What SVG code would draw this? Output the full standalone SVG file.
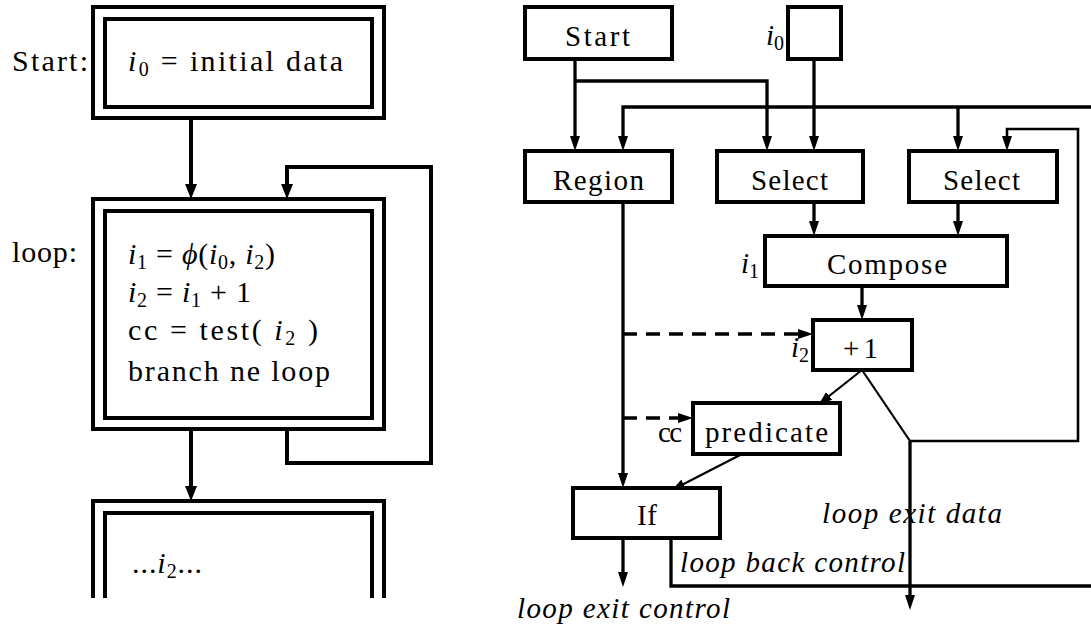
<svg xmlns="http://www.w3.org/2000/svg" width="1091" height="628" viewBox="0 0 1091 628">
<style>
  text { font-family: "Liberation Serif", Tinos, "Nimbus Roman", "Nimbus Roman No9 L", FreeSerif, "DejaVu Serif", "Noto Serif", Times, "Times New Roman", serif; fill: #000; }
  .L { font-size: 30px; }
  .R { font-size: 29px; }
  .it { font-style: italic; }
  .sub { font-size: 20px; font-style: normal; }
  .lbox { fill: none; stroke: #000; stroke-width: 4; }
  .rbox { fill: #fff; stroke: #000; stroke-width: 4; }
  .lc { fill: none; stroke: #000; stroke-width: 4; }
  .c { fill: none; stroke: #000; stroke-width: 3.3; }
  .thin { fill: none; stroke: #000; stroke-width: 2.6; }
  .diag { fill: none; stroke: #000; stroke-width: 2.2; }
  .dash { fill: none; stroke: #000; stroke-width: 3.3; stroke-dasharray: 14 9; }
</style>
<defs>
  <marker id="ahL" markerUnits="userSpaceOnUse" markerWidth="15" markerHeight="12" refX="9" refY="6" orient="auto">
    <path d="M0,0 L15,6 L0,12 z" fill="#000"/>
  </marker>
  <marker id="ah" markerUnits="userSpaceOnUse" markerWidth="15" markerHeight="10" refX="9" refY="5" orient="auto">
    <path d="M0,0 L15,5 L0,10 z" fill="#000"/>
  </marker>
  <marker id="ahs" markerUnits="userSpaceOnUse" markerWidth="13" markerHeight="10" refX="13" refY="5" orient="auto">
    <path d="M0,0 L13,5 L0,10 z" fill="#000"/>
  </marker>
</defs>

<!-- ===== Left: control flow graph ===== -->
<g id="left-connectors">
  <path class="lc" d="M191,118 V193" marker-end="url(#ahL)"/>
  <path class="lc" d="M287,429 V463 H431 V167 H287 V193" marker-end="url(#ahL)"/>
  <path class="lc" d="M191,429 V495" marker-end="url(#ahL)"/>
</g>

<g id="bb-start">
  <rect class="lbox" x="93" y="7" width="291" height="111"/>
  <rect class="lbox" x="105" y="19" width="267" height="88"/>
  <text class="L" x="12" y="71" textLength="76">Start:</text>
  <text class="L" x="128" y="71" textLength="215"><tspan class="it">i</tspan><tspan class="sub" dy="5">0</tspan><tspan dy="-5"> = initial data</tspan></text>
</g>

<g id="bb-loop">
  <rect class="lbox" x="93" y="199" width="291" height="230"/>
  <rect class="lbox" x="105" y="211" width="267" height="207"/>
  <text class="L" x="12" y="262" textLength="65">loop:</text>
  <text class="L" x="128" y="264" textLength="147"><tspan class="it">i</tspan><tspan class="sub" dy="5">1</tspan><tspan dy="-5"> = </tspan><tspan class="it">ϕ</tspan><tspan>(</tspan><tspan class="it">i</tspan><tspan class="sub" dy="5">0</tspan><tspan dy="-5">, </tspan><tspan class="it">i</tspan><tspan class="sub" dy="5">2</tspan><tspan dy="-5">)</tspan></text>
  <text class="L" x="128" y="302" textLength="123"><tspan class="it">i</tspan><tspan class="sub" dy="5">2</tspan><tspan dy="-5"> = </tspan><tspan class="it">i</tspan><tspan class="sub" dy="5">1</tspan><tspan dy="-5"> + 1</tspan></text>
  <text class="L" x="128" y="340" textLength="190"><tspan>cc = test( </tspan><tspan class="it">i</tspan><tspan class="sub" dy="5">2</tspan><tspan dy="-5"> )</tspan></text>
  <text class="L" x="128" y="381" textLength="202">branch ne loop</text>
</g>

<g id="bb-after">
  <path class="lbox" d="M93,598 V501 H384 V598"/>
  <path class="lbox" d="M105,598 V513 H372 V598"/>
  <text class="L" x="132" y="573" textLength="70"><tspan>...</tspan><tspan class="it">i</tspan><tspan class="sub" dy="5">2</tspan><tspan dy="-5">...</tspan></text>
</g>

<!-- ===== Right: sea of nodes graph ===== -->
<g id="connectors">
  <path class="c" d="M575,59 V145" marker-end="url(#ah)"/>
  <path class="c" d="M575,81 H767 V145" marker-end="url(#ah)"/>
  <path class="c" d="M814,59 V145" marker-end="url(#ah)"/>
  <path class="c" d="M1091,107 H623 V145" marker-end="url(#ah)"/>
  <path class="c" d="M958,107 V145" marker-end="url(#ah)"/>
  <path class="thin" d="M910,441 H1078 V129 H1007 V145" marker-end="url(#ah)"/>
  <path class="diag" d="M862,370 L910,441"/>
  <path class="c" d="M910,441 V604" marker-end="url(#ah)"/>
  <path class="c" d="M814,202 V230" marker-end="url(#ah)"/>
  <path class="c" d="M958,202 V230" marker-end="url(#ah)"/>
  <path class="c" d="M862,286 V314" marker-end="url(#ah)"/>
  <path class="c" d="M623,202 V482" marker-end="url(#ah)"/>
  <path class="dash" d="M623,334 H807" marker-end="url(#ah)"/>
  <path class="dash" d="M623,418 H687" marker-end="url(#ah)"/>
  <path class="diag" d="M862,370 L819,404" marker-end="url(#ahs)"/>
  <path class="diag" d="M742,454 L672,490" marker-end="url(#ahs)"/>
  <path class="c" d="M623,538 V581" marker-end="url(#ah)"/>
  <path class="c" d="M671,538 V586 H1091"/>
</g>

<g id="n-start">
  <rect class="rbox" x="525" y="7" width="147" height="52"/>
  <text class="R" x="565" y="46" textLength="65">Start</text>
</g>
<g id="n-i0">
  <rect class="rbox" x="788" y="7" width="53" height="52"/>
  <text class="R" x="766" y="45"><tspan class="it">i</tspan><tspan class="sub" dy="5">0</tspan></text>
</g>
<g id="n-region">
  <rect class="rbox" x="525" y="151" width="147" height="51"/>
  <text class="R" x="553" y="190" textLength="91">Region</text>
</g>
<g id="n-select1">
  <rect class="rbox" x="717" y="151" width="146" height="51"/>
  <text class="R" x="751" y="190" textLength="77">Select</text>
</g>
<g id="n-select2">
  <rect class="rbox" x="909" y="151" width="148" height="51"/>
  <text class="R" x="943" y="190" textLength="77">Select</text>
</g>
<g id="n-compose">
  <rect class="rbox" x="765" y="236" width="242" height="50"/>
  <text class="R" x="827" y="274" textLength="120">Compose</text>
  <text class="R" x="741" y="273"><tspan class="it">i</tspan><tspan class="sub" dy="5">1</tspan></text>
</g>
<g id="n-plus1">
  <rect class="rbox" x="813" y="320" width="99" height="50"/>
  <text class="R" x="843" y="358" textLength="35">+1</text>
  <text class="R" x="791" y="357"><tspan class="it">i</tspan><tspan class="sub" dy="5">2</tspan></text>
</g>
<g id="n-predicate">
  <rect class="rbox" x="693" y="403" width="147" height="51"/>
  <text class="R" x="705" y="442" textLength="123">predicate</text>
  <text class="R" x="658" y="442" textLength="24">cc</text>
</g>
<g id="n-if">
  <rect class="rbox" x="573" y="488" width="147" height="50"/>
  <text class="R" x="637" y="525" textLength="20">If</text>
</g>

<g id="labels">
  <text class="R it" x="822" y="523" textLength="180">loop exit data</text>
  <text class="R it" x="680" y="572" textLength="225">loop back control</text>
  <text class="R it" x="517" y="618" textLength="213">loop exit control</text>
</g>
</svg>
